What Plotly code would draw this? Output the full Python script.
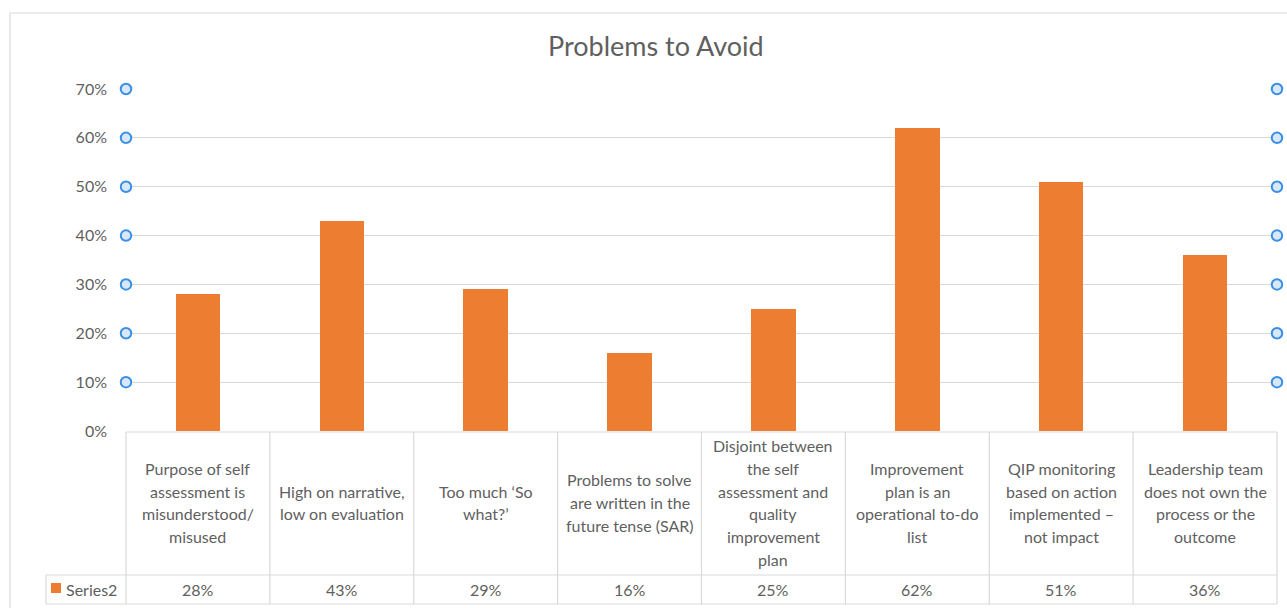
import plotly.graph_objects as go

# Chart data
title_text = "Problems to Avoid"
series_name = "Series2"
categories = [
    "Purpose of self<br>assessment is<br>misunderstood/<br>misused",
    "High on narrative,<br>low on evaluation",
    "Too much ‘So<br>what?’",
    "Problems to solve<br>are written in the<br>future tense (SAR)",
    "Disjoint between<br>the self<br>assessment and<br>quality<br>improvement<br>plan",
    "Improvement<br>plan is an<br>operational to-do<br>list",
    "QIP monitoring<br>based on action<br>implemented –<br>not impact",
    "Leadership team<br>does not own the<br>process or the<br>outcome",
]
values = [0.28, 0.43, 0.29, 0.16, 0.25, 0.62, 0.51, 0.36]
grid_ticks = [0.0, 0.1, 0.2, 0.3, 0.4, 0.5, 0.6, 0.7]

W, H = 1287, 608
FONT = "Lato"
TXT = "#5f5f5f"
LINE = "#d9d9d9"
ORANGE = "#ED7D31"
HANDLE = "#3a8ee6"
FS = 16

# pixel geometry of plot area / data table
x_left, x_right = 126, 1277
y_zero, y_top = 431, 89
hdr_top, hdr_bot, tbl_bot = 432, 575, 604
leg_left = 46


def px_x(px):
    return px / W


def px_y(py):
    return 1 - py / H


n = len(categories)
xs = list(range(n))

fig = go.Figure()

fig.add_trace(go.Bar(
    x=xs, y=values, width=0.31, marker=dict(color=ORANGE, line=dict(width=0)),
    name=series_name, showlegend=False, hoverinfo="skip",
))

# gridline selection handles at both ends
handle_y = [t for t in grid_ticks if t > 0]
for xe in (-0.5, n - 0.5):
    fig.add_trace(go.Scatter(
        x=[xe] * len(handle_y), y=handle_y, mode="markers",
        marker=dict(symbol="circle", size=10.5, color="#d6e8fa",
                    line=dict(color=HANDLE, width=2)),
        showlegend=False, hoverinfo="skip", cliponaxis=False,
    ))

shapes = []
# outer chart border
shapes.append(dict(type="rect", xref="paper", yref="paper",
                   x0=px_x(10), x1=px_x(1300), y0=px_y(620), y1=px_y(13),
                   line=dict(color=LINE, width=1.2)))
# data table lines
shapes.append(dict(type="line", xref="paper", yref="paper",
                   x0=px_x(x_left), x1=px_x(x_right), y0=px_y(hdr_top), y1=px_y(hdr_top),
                   line=dict(color=LINE, width=1.2)))
for yy in (hdr_bot, tbl_bot):
    shapes.append(dict(type="line", xref="paper", yref="paper",
                       x0=px_x(leg_left), x1=px_x(x_right), y0=px_y(yy), y1=px_y(yy),
                       line=dict(color=LINE, width=1.2)))
shapes.append(dict(type="line", xref="paper", yref="paper",
                   x0=px_x(leg_left), x1=px_x(leg_left), y0=px_y(hdr_bot), y1=px_y(tbl_bot),
                   line=dict(color=LINE, width=1.2)))
for i in range(n + 1):
    xb = x_left + (x_right - x_left) * i / n
    shapes.append(dict(type="line", xref="paper", yref="paper",
                       x0=px_x(xb), x1=px_x(xb), y0=px_y(hdr_top), y1=px_y(tbl_bot),
                       line=dict(color=LINE, width=1.2)))
# legend key
shapes.append(dict(type="rect", xref="paper", yref="paper",
                   x0=px_x(51), x1=px_x(61), y0=px_y(593), y1=px_y(583),
                   fillcolor=ORANGE, line=dict(width=0)))

annotations = []
annotations.append(dict(text=title_text, xref="paper", yref="paper",
                        x=px_x(656), y=px_y(45.5), showarrow=False,
                        xanchor="center", yanchor="middle",
                        font=dict(family=FONT, size=27, color=TXT)))
row_mid = (hdr_top + hdr_bot) / 2 - 1
line_h = 22.8
for i, lab in enumerate(categories):
    lines = lab.split("<br>")
    k = len(lines)
    for j, ln in enumerate(lines):
        yy = row_mid + (j - (k - 1) / 2) * line_h
        annotations.append(dict(text=ln, xref="x", yref="paper", x=xs[i], y=px_y(yy),
                                showarrow=False, xanchor="center", yanchor="middle",
                                font=dict(family=FONT, size=FS, color=TXT)))
    annotations.append(dict(text=f"{round(values[i] * 100)}%", xref="x", yref="paper",
                            x=xs[i], y=px_y((hdr_bot + tbl_bot) / 2 - 0.5),
                            showarrow=False, xanchor="center", yanchor="middle",
                            font=dict(family=FONT, size=FS, color=TXT)))
annotations.append(dict(text=series_name, xref="paper", yref="paper",
                        x=px_x(64), y=px_y((hdr_bot + tbl_bot) / 2 - 0.5),
                        showarrow=False, xanchor="left", yanchor="middle",
                        font=dict(family=FONT, size=FS, color=TXT)))

fig.update_layout(
    width=W, height=H,
    margin=dict(l=0, r=0, t=0, b=0, pad=0, autoexpand=False),
    paper_bgcolor="white", plot_bgcolor="white",
    shapes=shapes, annotations=annotations,
    bargap=0,
    xaxis=dict(domain=[px_x(x_left), px_x(x_right)], range=[-0.5, n - 0.5],
               showgrid=False, zeroline=False, showticklabels=False, ticks="",
               showline=False, fixedrange=True, automargin=False),
    yaxis=dict(domain=[px_y(y_zero), px_y(y_top)], range=[0, 0.7],
               tickvals=grid_ticks, tickformat=".0%",
               showgrid=True, gridcolor=LINE, gridwidth=1.2, zeroline=False,
               showline=False, ticks="", ticklabelstandoff=18, automargin=False,
               tickfont=dict(family=FONT, size=FS, color=TXT), fixedrange=True),
)

fig.write_html("out.html")
